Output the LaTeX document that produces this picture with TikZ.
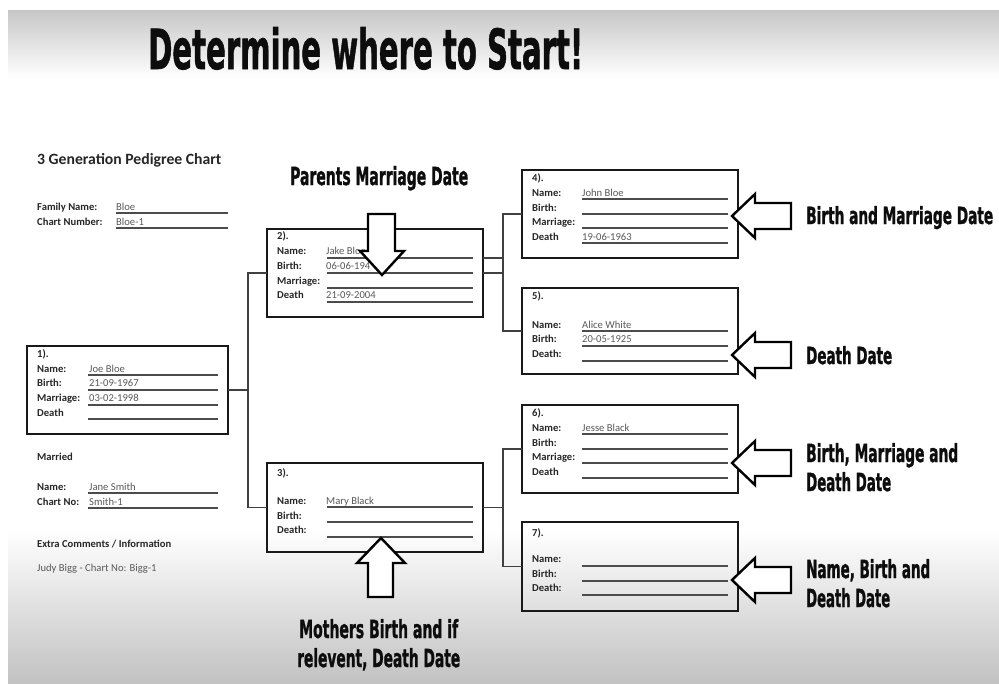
\documentclass[tikz,border=0pt]{standalone}
\usepackage{fontspec}
\usepackage{graphicx}
\newfontfamily\chartfont{Carlito}
\newfontfamily\heavyfont{DejaVu Sans}[BoldFeatures={FakeBold=1.5}]
\newcommand{\hvtext}[3]{\resizebox{#1pt}{#2pt}{\heavyfont\bfseries #3}}
\begin{document}
\begin{tikzpicture}[x=1pt,y=-1pt,
  pbox/.style={draw=black!90, line width=2.8pt, minimum width=216pt, minimum height=88pt, inner sep=0pt, outer sep=0pt},
  conn/.style={draw=black!75, line width=1.2pt},
  fline/.style={draw=black!70, line width=1.4pt},
  lab/.style={anchor=base west, inner sep=0pt, font=\chartfont\bfseries\fontsize{10.6}{12}\selectfont, text=black!85},
  val/.style={anchor=base west, inner sep=0pt, font=\chartfont\fontsize{10.6}{12}\selectfont, text=black!65},
  heavy/.style={anchor=base west, inner sep=0pt, text=black!95},
  barrow/.style={draw=black, fill=white, line width=2.4pt, line join=miter}]
\useasboundingbox (0,0) rectangle (999,683);
% background
\fill[white] (0,0) rectangle (999,683);
\shade[top color=black!22, bottom color=white] (8,10) rectangle (999,78);
\shade[top color=white, bottom color=black!24] (8,530) rectangle (999,683);

% title
\node[heavy] (title) at (148,69) {\hvtext{435}{42}{Determine where to Start!}};

% left header
\node[lab, font=\chartfont\bfseries\fontsize{15.7}{18}\selectfont] (hdr) at (37,164) {3 Generation Pedigree Chart};
\node[lab] (fnl) at (37,210) {Family Name:};
\node[val] (fnv) at (116,210) {Bloe};
\draw[fline] (116,213) -- (228,213);
\node[lab] (cnl) at (37,225) {Chart Number:};
\node[val] (cnv) at (116,225) {Bloe-1};
\draw[fline] (116,228) -- (228,228);

% boxes
\node[pbox, minimum width=201pt] (b1) at (127.5,390) {};
\node[pbox] (b2) at (375,273) {};
\node[pbox, minimum height=89pt] (b3) at (375,507.5) {};
\node[pbox] (b4) at (630,214) {};
\node[pbox, minimum height=86pt] (b5) at (630,331) {};
\node[pbox] (b6) at (630,449) {};
\node[pbox, minimum height=89pt] (b7) at (630,566.5) {};

% connectors
\coordinate (j1) at (248,390);
\coordinate (j2) at (503,273);
\coordinate (j2b) at (503,258);
\coordinate (j3) at (503,507.5);
\draw[conn] (b1.east) -- (j1);
\draw[conn] (b2.west) -| (j1) |- (b3.west);
\draw[conn] (b4.west) -| (j2) |- (b5.west);
\draw[conn] (b2.east) -- (j2);
\draw[conn] (b2.east |- j2b) -- (j2b);
\draw[conn] (b6.west) -| (j3) |- (b7.west);
\draw[conn] (b3.east) -- (j3);

% box 1
\node[lab] (n1) at (37,357) {1).};
\node[lab] (n1a) at (37,372) {Name:};
\node[lab] (n1b) at (37,386) {Birth:};
\node[lab] (n1c) at (37,401) {Marriage:};
\node[lab] (n1d) at (37,416) {Death};
\node[val] (v1a) at (89,372) {Joe Bloe};
\node[val] (v1b) at (89,386) {21-09-1967};
\node[val] (v1c) at (89,401) {03-02-1998};
\foreach \yy in {375,390,405,419} \draw[fline] (88,\yy) -- (218,\yy);

% married
\node[lab] (mar) at (37,460) {Married};
\node[lab] (mna) at (37,490) {Name:};
\node[val] (mnv) at (89,490) {Jane Smith};
\draw[fline] (88,493) -- (218,493);
\node[lab] (mcn) at (37,505) {Chart No:};
\node[val] (mcv) at (89,505) {Smith-1};
\draw[fline] (88,508) -- (218,508);
\node[lab] (ext) at (37,547) {Extra Comments / Information};
\node[val] (extv) at (37,571) {Judy Bigg - Chart No: Bigg-1};

% box 2
\node[lab] (n2) at (277,239) {2).};
\node[lab] (n2a) at (277,254) {Name:};
\node[lab] (n2b) at (277,269) {Birth:};
\node[lab] (n2c) at (277,284) {Marriage:};
\node[lab] (n2d) at (277,298) {Death};
\node[val] (v2a) at (326,254) {Jake Bloe};
\node[val] (v2b) at (326,269) {06-06-194};
\node[val] (v2d) at (326,298) {21-09-2004};
\foreach \yy in {258,273,288,302} \draw[fline] (327,\yy) -- (473,\yy);

% box 3
\node[lab] (n3) at (277,476) {3).};
\node[lab] (n3a) at (277,504) {Name:};
\node[lab] (n3b) at (277,519) {Birth:};
\node[lab] (n3d) at (277,533) {Death:};
\node[val] (v3a) at (326,504) {Mary Black};
\foreach \yy in {507,522,537} \draw[fline] (327,\yy) -- (473,\yy);

% box 4
\node[lab] (n4) at (532,181) {4).};
\node[lab] (n4a) at (532,196) {Name:};
\node[lab] (n4b) at (532,211) {Birth:};
\node[lab] (n4c) at (532,225) {Marriage:};
\node[lab] (n4d) at (532,240) {Death};
\node[val] (v4a) at (582,196) {John Bloe};
\node[val] (v4d) at (582,240) {19-06-1963};
\foreach \yy in {199,214,228,243} \draw[fline] (582,\yy) -- (728,\yy);

% box 5
\node[lab] (n5) at (532,299) {5).};
\node[lab] (n5a) at (532,328) {Name:};
\node[lab] (n5b) at (532,342) {Birth:};
\node[lab] (n5d) at (532,357) {Death:};
\node[val] (v5a) at (582,328) {Alice White};
\node[val] (v5b) at (582,342) {20-05-1925};
\foreach \yy in {331,346,361} \draw[fline] (582,\yy) -- (728,\yy);

% box 6
\node[lab] (n6) at (532,416) {6).};
\node[lab] (n6a) at (532,431) {Name:};
\node[lab] (n6b) at (532,446) {Birth:};
\node[lab] (n6c) at (532,460) {Marriage:};
\node[lab] (n6d) at (532,475) {Death};
\node[val] (v6a) at (582,431) {Jesse Black};
\foreach \yy in {434,449,463,478} \draw[fline] (582,\yy) -- (728,\yy);

% box 7
\node[lab] (n7) at (532,536) {7).};
\node[lab] (n7a) at (532,562) {Name:};
\node[lab] (n7b) at (532,577) {Birth:};
\node[lab] (n7d) at (532,591) {Death:};
\foreach \yy in {566,581,595} \draw[fline] (582,\yy) -- (728,\yy);

% block arrows
\draw[barrow] (368,214) -- (395,214) -- (395,251) -- (404,251) -- (382,275) -- (360,251) -- (368,251) -- cycle;
\draw[barrow] (381,538) -- (405,563) -- (393,563) -- (393,597) -- (368,597) -- (368,563) -- (357,563) -- cycle;
\foreach \ty in {216,355,463,580} {
  \draw[barrow] (732,\ty) -- (755,\ty-22) -- (755,\ty-13) -- (791,\ty-13) -- (791,\ty+13) -- (755,\ty+13) -- (755,\ty+22) -- cycle;
}

% annotations
\node[heavy] (pmd) at (290,185) {\hvtext{178}{19}{Parents Marriage Date}};
\node[heavy] (bmd) at (806,224) {\hvtext{187}{18}{Birth and Marriage Date}};
\node[heavy] (dd5) at (806,364) {\hvtext{86}{18}{Death Date}};
\node[heavy] (bm6a) at (806,462) {\hvtext{152}{19}{Birth, Marriage and}};
\node[heavy] (bm6b) at (806,491) {\hvtext{85}{19}{Death Date}};
\node[heavy] (nb7a) at (806,578) {\hvtext{124}{19}{Name, Birth and}};
\node[heavy] (nb7b) at (806,607) {\hvtext{84}{19}{Death Date}};
\node[heavy] (mb1) at (299,638) {\hvtext{159}{19}{Mothers Birth and if}};
\node[heavy] (mb2) at (297,667) {\hvtext{163}{19}{relevent, Death Date}};
\end{tikzpicture}
\end{document}
